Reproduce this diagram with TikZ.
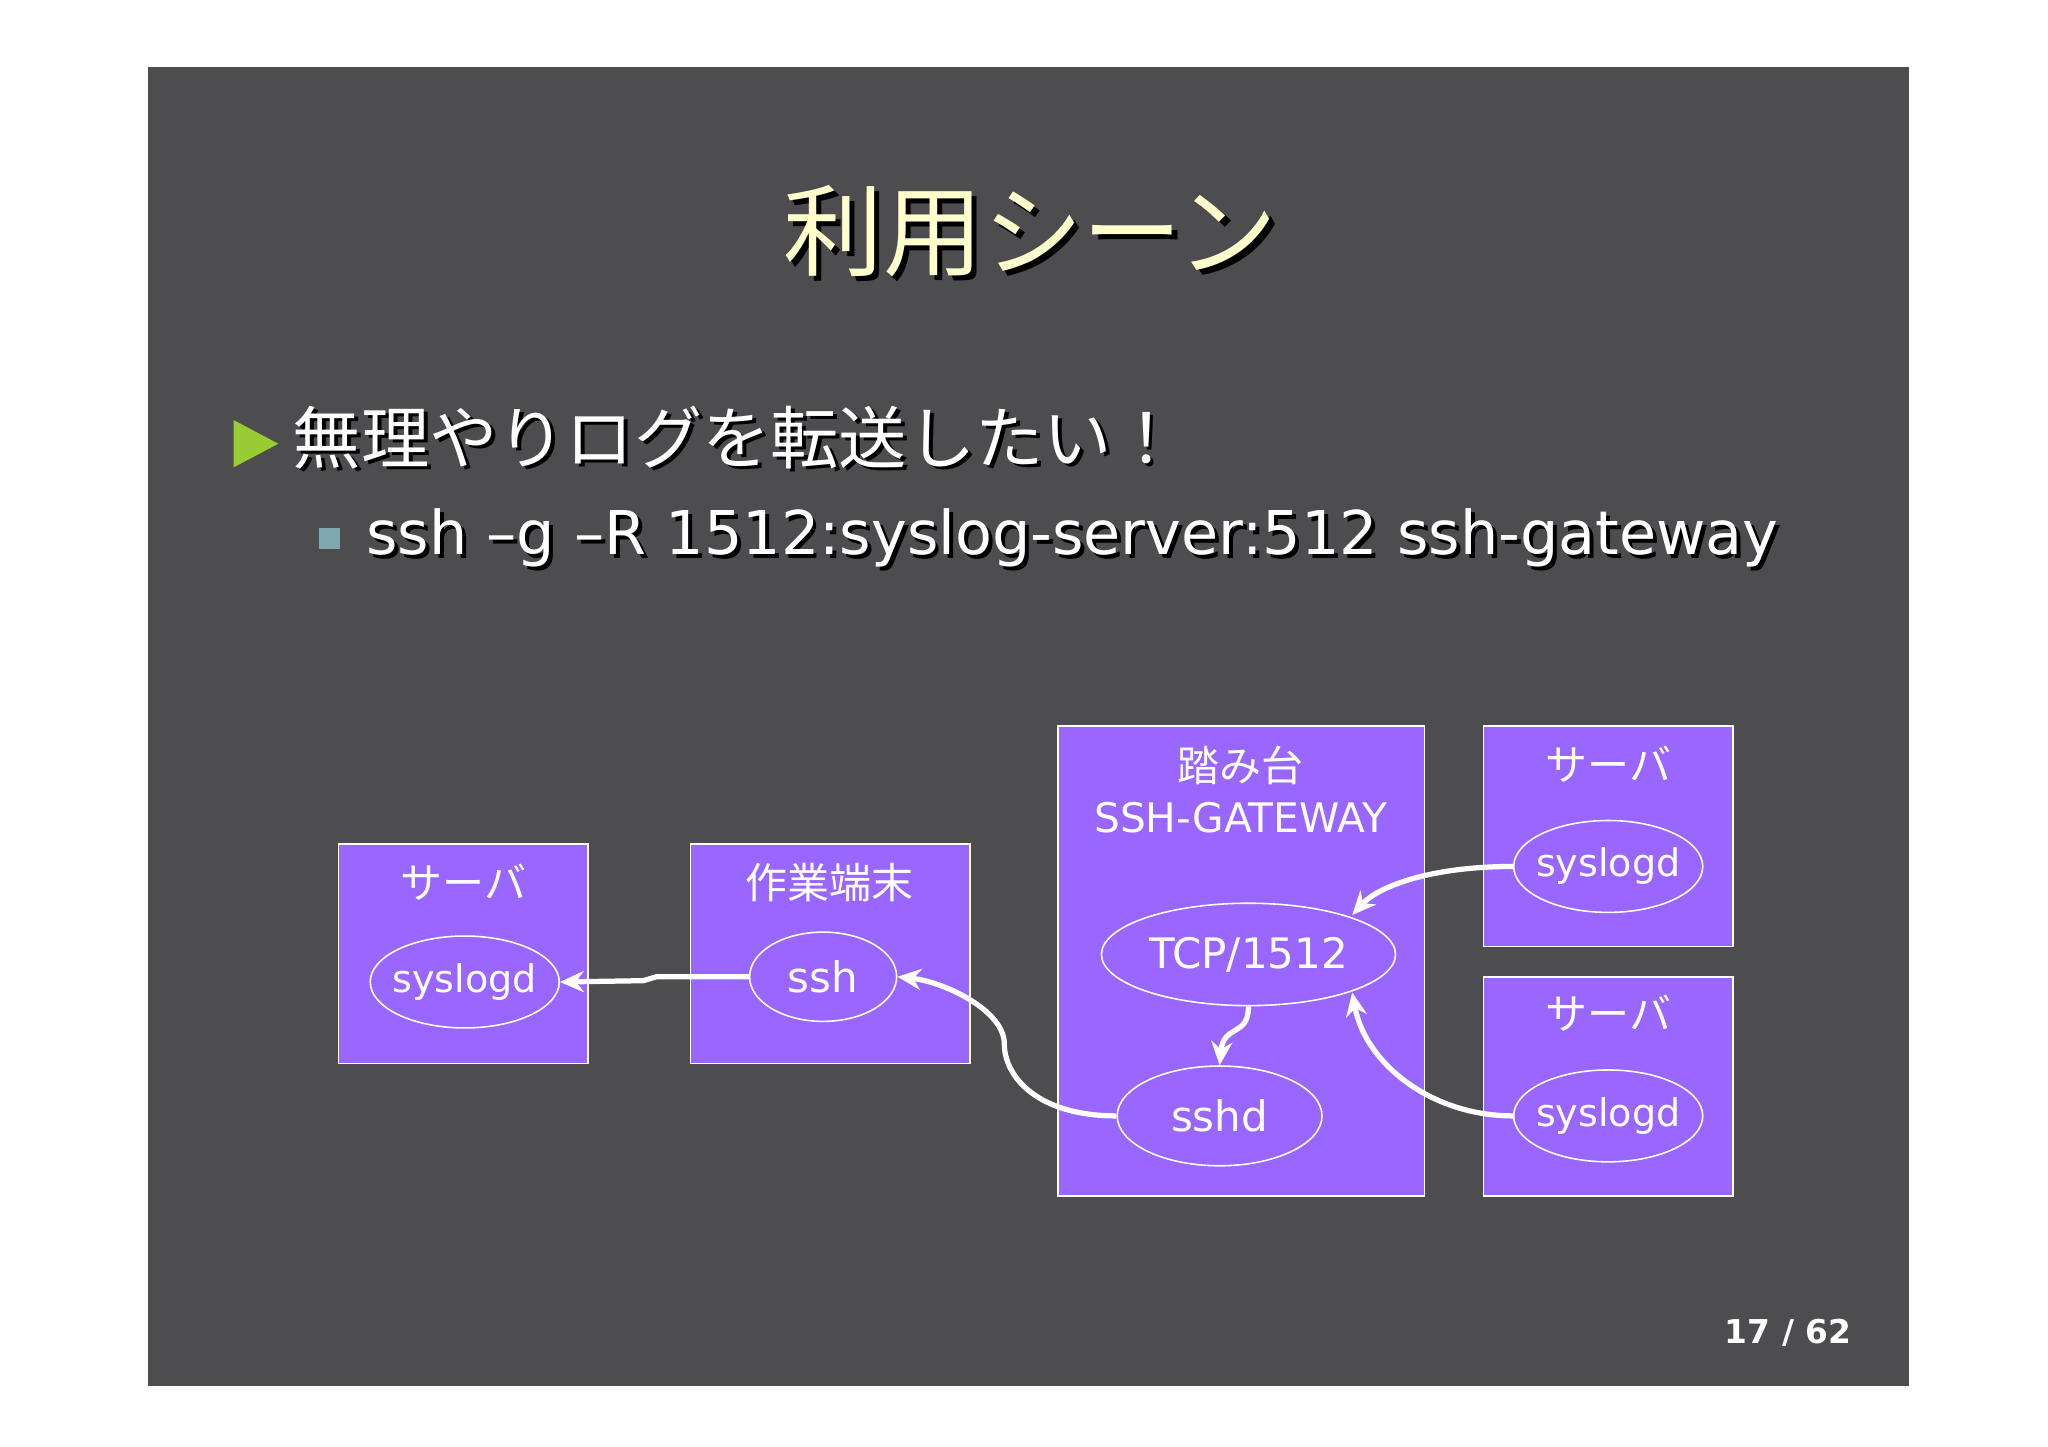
\documentclass[tikz,border=0pt]{standalone}
\usepackage{fontspec}
\setmainfont{DejaVu Sans}
\newfontfamily\cjk{Noto Sans CJK JP}
\usetikzlibrary{arrows.meta,shapes.geometric}
\definecolor{slidebg}{HTML}{4D4C4E}
\definecolor{boxfill}{HTML}{9966FF}
\definecolor{titlecol}{HTML}{FFFFCC}
\definecolor{bulgreen}{HTML}{99CC33}
\definecolor{bulsq}{HTML}{7FA8B0}
\tikzset{
  x=0.5pt,y=-0.5pt,
  boxn/.style={draw=white,line width=0.6pt,fill=boxfill},
  ell/.style={draw=white,line width=0.6pt,ellipse,inner sep=0pt},
  lbl/.style={text=white,font=\cjk\fontsize{16}{18}\selectfont},
  etext/.style={text=white,font=\fontsize{16}{18}\selectfont},
  stext/.style={text=white,font=\fontsize{14.5}{18}\selectfont},
  arr/.style={draw=white,line width=2pt,-{Stealth[length=9pt,width=8pt]}},
}
\begin{document}
\begin{tikzpicture}
\useasboundingbox (0,0) rectangle (1560,1102);
\fill[white] (0,0) rectangle (1560,1102);
\fill[slidebg] (113,51) rectangle (1454,1056);
% title
\node[text=black,font=\cjk\fontsize{38}{40}\selectfont] at (789,180) {利用シーン};
\node[text=titlecol,font=\cjk\fontsize{38}{40}\selectfont] (title) at (785,176) {利用シーン};
% bullets
\fill[bulgreen] (178,320) -- (212,338) -- (178,356) -- cycle;
\node[anchor=west,text=black,font=\cjk\fontsize{26}{28}\selectfont] at (219,336) {無理やりログを転送したい！};
\node[anchor=west,text=white,font=\cjk\fontsize{26}{28}\selectfont] (b1) at (216,333) {無理やりログを転送したい！};
\fill[bulsq] (243,402) rectangle (259,418);
\node[anchor=west,text=black,font=\fontsize{23}{26}\selectfont] at (275,413) {ssh –g –R 1512:syslog-server:512 ssh-gateway};
\node[anchor=west,text=white,font=\fontsize{23}{26}\selectfont] (b2) at (272,410) {ssh –g –R 1512:syslog-server:512 ssh-gateway};
% boxes
\draw[boxn] (258,643) rectangle (448,810);
\node[lbl] (l1) at (353,672) {サーバ};
\node[ell,minimum width=72pt,minimum height=35pt] (sys1) at (354,748) {};
\node[stext] at (sys1) {syslogd};
\draw[boxn] (526,643) rectangle (739,810);
\node[lbl] (l2) at (632,672) {作業端末};
\node[ell,minimum width=56pt,minimum height=34pt] (ssh) at (627,744) {};
\node[etext] at (ssh) {ssh};
\draw[boxn] (806,553) rectangle (1085,911);
\node[lbl] (l3) at (945,583) {踏み台};
\node[text=white,font=\fontsize{15.5}{18}\selectfont] (l3b) at (945,623) {SSH-GATEWAY};
\node[ell,minimum width=112pt,minimum height=39pt] (tcp) at (951,727) {};
\node[etext] at (tcp) {TCP/1512};
\node[ell,minimum width=78pt,minimum height=38pt] (sshd) at (929,850) {};
\node[etext] at (sshd) {sshd};
\draw[boxn] (1130,553) rectangle (1320,721);
\node[lbl] (l4) at (1225,582) {サーバ};
\node[ell,minimum width=72pt,minimum height=35pt] (sys2) at (1225,660) {};
\node[stext] at (sys2) {syslogd};
\draw[boxn] (1130,744) rectangle (1320,911);
\node[lbl] (l5) at (1225,772) {サーバ};
\node[ell,minimum width=72pt,minimum height=35pt] (sys3) at (1225,850) {};
\node[stext] at (sys3) {syslogd};
% arrows
\draw[arr] (ssh.west) -- (500,744) -- (490,747) -- (sys1.east);
\draw[arr] (sshd.west) .. controls (790,850) and (765,820) .. (765,795) .. controls (765,770) and (720,748) .. (ssh.east);
\draw[arr] (tcp.south) .. controls (951,790) and (932,780) .. (sshd.north);
\draw[arr] (sys2.west) .. controls (1090,660) and (1050,675) .. (1030,697);
\draw[arr] (sys3.west) .. controls (1090,850) and (1040,810) .. (1030,756);
% page number
\node[text=white,font=\bfseries\fontsize{12.5}{15}\selectfont] (pg) at (1362,1015) {17 / 62};
\end{tikzpicture}
\end{document}
